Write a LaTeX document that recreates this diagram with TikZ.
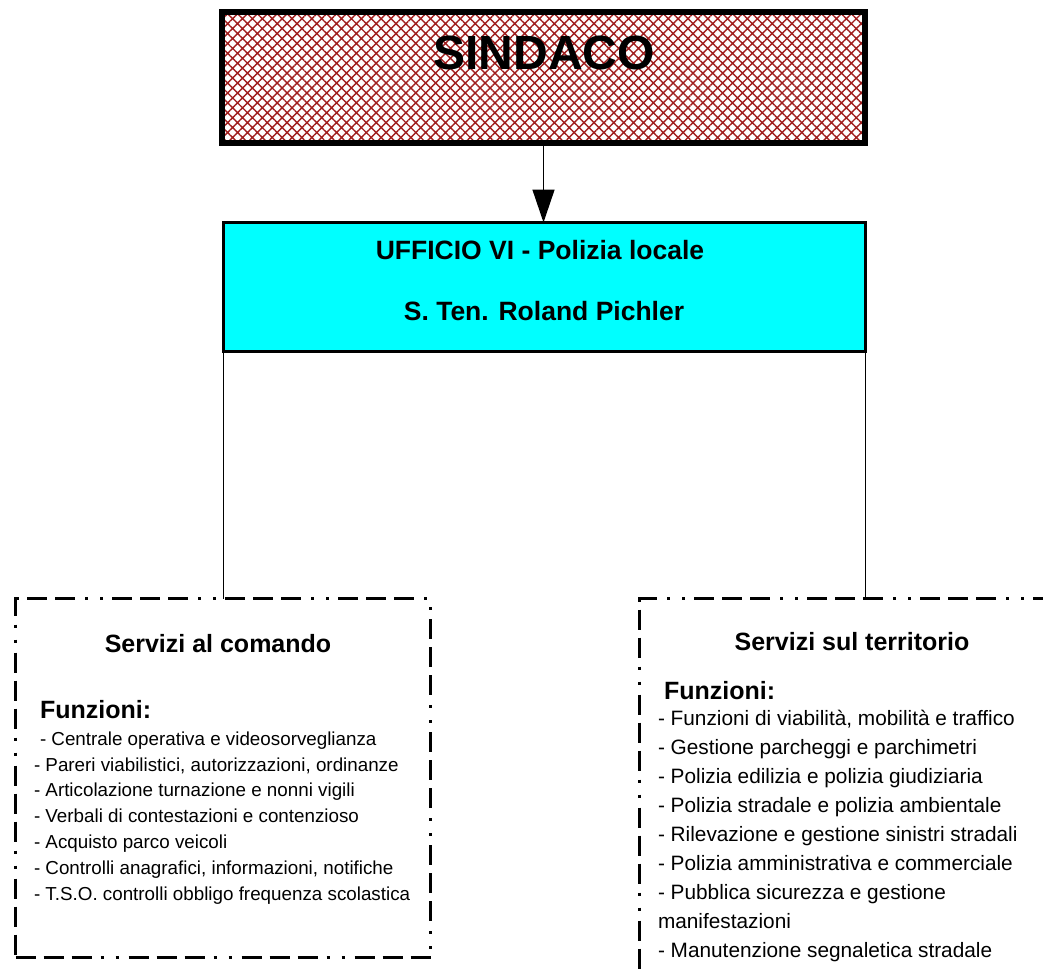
\documentclass[tikz,border=0pt]{standalone}
\usepackage{fontspec}
\setmainfont{Liberation Sans}
\usetikzlibrary{positioning,arrows.meta,patterns.meta}

\definecolor{hatchred}{RGB}{160,30,30}
\definecolor{uffcyan}{RGB}{0,255,255}

\tikzset{
  every node/.style={inner sep=0pt, outer sep=0pt},
  capobox/.style={draw, line width=6pt, minimum width=643pt, minimum height=131pt,
    pattern={Hatch[angle=45,distance=7pt,line width=1.4pt]}, pattern color=hatchred},
  ufficiobox/.style={draw, line width=3pt, fill=uffcyan, minimum width=642pt, minimum height=129pt},
  servbox/.style={draw, line width=3pt,
    dash pattern=on 20pt off 8pt on 20pt off 8pt on 20pt off 9pt on 3pt off 12pt on 3pt off 10pt},
  titolo/.style={font=\bfseries\fontsize{25}{30}\selectfont, anchor=base},
  intest/.style={font=\bfseries\fontsize{26.5}{30}\selectfont, anchor=base},
  voci/.style={align=left, anchor=base west}
}

\begin{document}
\begin{tikzpicture}[x=1pt, y=1pt]
  \useasboundingbox (0,0) rectangle (1043,-974);
  \clip (0,0) rectangle (1043,-974);

  % caselle
  \node[capobox] (sindaco) at (543.5,-77.5) {};
  \node[ufficiobox] (ufficio) at (544.5,-287) {};
  \node[servbox, minimum width=415pt, minimum height=359pt] (comando) at (223,-778) {};
  \node[servbox, minimum width=430pt, minimum height=400pt] (territorio) at (854.5,-798.5) {};

  % testi
  \node[font=\bfseries\fontsize{48}{50}\selectfont, anchor=base] (sindacotxt) at (544,-69) {SINDACO};
  \node[intest] (uffnome) at (540,-259) {UFFICIO VI - Polizia locale};
  \node[intest] (uffcapo) at (544,-320) {S. Ten. Roland Pichler};

  \node[titolo] (comtit) at (218,-652) {Servizi al comando};
  \node[titolo, anchor=base west] (comfun) at (40,-718) {Funzioni:};
  % il nodo su piu' righe si aggancia all'ultima riga
  \node[voci, font=\fontsize{18.8}{25.8}\selectfont] (comvoci) at (34,-900) {
    \hspace{6pt}- Centrale operativa e videosorveglianza\\
    - Pareri viabilistici, autorizzazioni, ordinanze\\
    - Articolazione turnazione e nonni vigili\\
    - Verbali di contestazioni e contenzioso\\
    - Acquisto parco veicoli\\
    - Controlli anagrafici, informazioni, notifiche\\
    - T.S.O. controlli obbligo frequenza scolastica};

  \node[titolo] (tertit) at (852,-650) {Servizi sul territorio};
  \node[titolo, anchor=base west] (terfun) at (664,-699) {Funzioni:};
  \node[voci, font=\fontsize{20.8}{29}\selectfont] (tervoci) at (658,-957) {
    - Funzioni di viabilità, mobilità e traffico\\
    - Gestione parcheggi e parchimetri\\
    - Polizia edilizia e polizia giudiziaria\\
    - Polizia stradale e polizia ambientale\\
    - Rilevazione e gestione sinistri stradali\\
    - Polizia amministrativa e commerciale\\
    - Pubblica sicurezza e gestione\\
    manifestazioni\\
    - Manutenzione segnaletica stradale};

  % collegamenti
  \draw[line width=1.5pt, -{Triangle[width=22pt,length=33pt]}] (sindaco.south) -- (sindaco.south |- ufficio.north);
  \draw[line width=1.5pt] (ufficio.south west) -- (ufficio.south west |- comando.north);
  \draw[line width=1.5pt] (ufficio.south east) -- (ufficio.south east |- territorio.north);
\end{tikzpicture}
\end{document}
